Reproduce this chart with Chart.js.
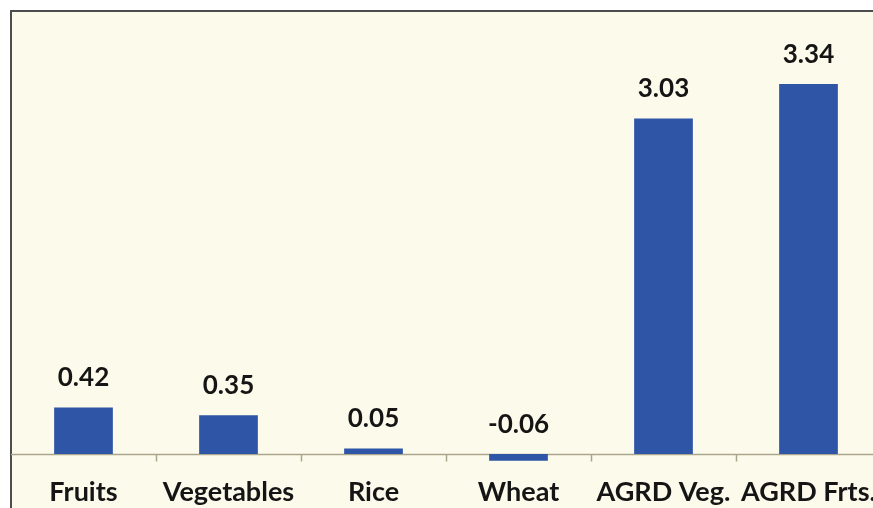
<!DOCTYPE html>
<html>
<head>
<meta charset="utf-8">
<script src="https://cdn.jsdelivr.net/npm/chart.js@4.4.1/dist/chart.umd.min.js"></script>
<style>
  html, body { margin: 0; padding: 0; background: #ffffff; overflow: hidden; }
  #wrap { position: relative; width: 873px; height: 508px; overflow: hidden; }
  #box { position: absolute; left: 0; top: 0; width: 890px; height: 514px; }
</style>
</head>
<body>
<div id="wrap"><div id="box"><canvas id="c"></canvas></div></div>
<script>
const categories = ["Fruits", "Vegetables", "Rice", "Wheat", "AGRD Veg.", "AGRD Frts."];
const values = [0.42, 0.35, 0.05, -0.06, 3.03, 3.34];
const valueLabels = ["0.42", "0.35", "0.05", "-0.06", "3.03", "3.34"];

const frame = {
  id: 'frame',
  beforeDraw(chart) {
    const ctx = chart.ctx;
    const w = chart.width, h = chart.height;
    ctx.save();
    ctx.fillStyle = '#ffffff';
    ctx.fillRect(0, 0, w, h);
    ctx.fillStyle = '#fcfbeb';
    ctx.fillRect(11, 11, w - 11, h - 11);
    ctx.strokeStyle = '#4d4d4d';
    ctx.lineWidth = 2;
    ctx.beginPath();
    ctx.moveTo(11, h);
    ctx.lineTo(11, 11);
    ctx.lineTo(w, 11);
    ctx.stroke();
    ctx.restore();
  },
  beforeDatasetsDraw(chart) {
    const ctx = chart.ctx;
    const xs = chart.scales.x, ys = chart.scales.y;
    const y0 = Math.round(ys.getPixelForValue(0)) + 0.5;
    const half = (xs.getPixelForValue(1) - xs.getPixelForValue(0)) / 2;
    ctx.save();
    ctx.strokeStyle = '#aaa58c';
    ctx.lineWidth = 1.5;
    ctx.beginPath();
    ctx.moveTo(chart.chartArea.left, y0);
    ctx.lineTo(chart.chartArea.right, y0);
    for (let i = 0; i < categories.length; i++) {
      const bx = Math.round(xs.getPixelForValue(i) + half) + 0.5;
      ctx.moveTo(bx, y0);
      ctx.lineTo(bx, y0 + 7);
    }
    ctx.stroke();
    ctx.restore();
  },
  afterDatasetsDraw(chart) {
    const ctx = chart.ctx;
    const xs = chart.scales.x, ys = chart.scales.y;
    ctx.save();
    ctx.fillStyle = '#151515';
    ctx.font = 'bold 26px Lato';
    ctx.textAlign = 'center';
    ctx.textBaseline = 'alphabetic';
    values.forEach((v, i) => {
      const x = xs.getPixelForValue(i);
      const y = ys.getPixelForValue(Math.max(v, 0)) - 21;
      ctx.fillText(valueLabels[i], x, y);
    });
    ctx.restore();
  }
};

new Chart(document.getElementById('c'), {
  type: 'bar',
  data: {
    labels: categories,
    datasets: [{
      data: values,
      backgroundColor: '#2f55a6',
      borderWidth: 0,
      barPercentage: 0.405,
      categoryPercentage: 1.0
    }]
  },
  options: {
    responsive: true,
    maintainAspectRatio: false,
    animation: false,
    layout: { padding: { left: 11, right: 9, top: 11, bottom: 0 } },
    plugins: { legend: { display: false }, tooltip: { enabled: false } },
    scales: {
      x: {
        grid: { display: false, drawTicks: false },
        border: { display: false },
        ticks: {
          color: '#151515',
          font: { family: 'Lato', size: 27, weight: 'bold' },
          padding: 5.5,
          autoSkip: false,
          maxRotation: 0,
          minRotation: 0
        }
      },
      y: {
        display: false,
        min: -0.15,
        max: 4.0
      }
    }
  },
  plugins: [frame]
});
</script>
</body>
</html>
